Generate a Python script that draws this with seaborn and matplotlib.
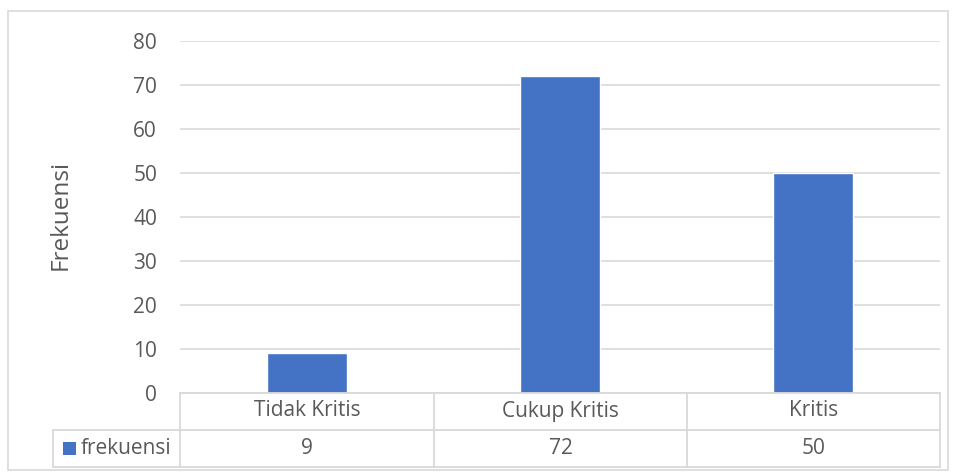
import matplotlib
matplotlib.use("Agg")
import matplotlib.pyplot as plt
import seaborn as sns
import pandas as pd
from matplotlib.lines import Line2D
from matplotlib.patches import Rectangle

categories = ["Tidak Kritis", "Cukup Kritis", "Kritis"]
values = [9, 72, 50]
series_name = "frekuensi"
y_label = "Frekuensi"
y_ticks = [0, 10, 20, 30, 40, 50, 60, 70, 80]

W, H = 955, 475
BLUE = "#4472C4"
GRID = "#D9D9D9"
TXT = "#595959"
FONT = "Open Sans"
FS = 15

sns.set_theme(style="white")
plt.rcParams["font.family"] = [FONT, "DejaVu Sans"]

fig = plt.figure(figsize=(W / 100, H / 100), dpi=100)

def fx(px):
    return px / W

def fy(py):
    return 1 - py / H

# plot area
left, right, top, bottom = 180, 940, 41, 393
ax = fig.add_axes([fx(left), fy(bottom), fx(right) - fx(left), fy(top) - fy(bottom)])
df = pd.DataFrame({"cat": categories, "val": values})
sns.barplot(data=df, x="cat", y="val", color=BLUE, width=0.316, saturation=1, ax=ax, zorder=3)
ax.set_xlim(-0.5, len(categories) - 0.5)
ax.set_ylim(y_ticks[0], y_ticks[-1])
ax.set_yticks(y_ticks)
ax.yaxis.grid(True, color=GRID, linewidth=1.2, zorder=0)
ax.set_axisbelow(True)
for s in ax.spines.values():
    s.set_visible(False)
ax.set_xticks([])
ax.set_xlabel("")
ax.set_ylabel("")
ax.tick_params(axis="y", length=0, pad=16.5, labelsize=FS, labelcolor=TXT)

fig.text(fx(61), fy(215), y_label, rotation=90, ha="center", va="center",
         fontsize=17.5, color=TXT)

# outer border
fig.patches.append(Rectangle((fx(8), fy(470)), fx(948) - fx(8), fy(11) - fy(470),
                             transform=fig.transFigure, fill=False, edgecolor=GRID,
                             linewidth=1.2))

def hline(x0, x1, y):
    fig.add_artist(Line2D([fx(x0), fx(x1)], [fy(y), fy(y)], color=GRID, linewidth=1.3,
                          transform=fig.transFigure))

def vline(x, y0, y1):
    fig.add_artist(Line2D([fx(x), fx(x)], [fy(y0), fy(y1)], color=GRID, linewidth=1.3,
                          transform=fig.transFigure))

# data table
col_edges = [180, 434, 687, 940]
hline(180, 940, 393)
hline(53, 940, 430)
hline(53, 940, 467)
for x in col_edges:
    vline(x, 393, 467)
vline(53, 430, 467)

for i, (c, v) in enumerate(zip(categories, values)):
    cx = (col_edges[i] + col_edges[i + 1]) / 2
    fig.text(fx(cx), fy(411), c, ha="center", va="center", fontsize=FS, color=TXT)
    fig.text(fx(cx), fy(449), str(v), ha="center", va="center", fontsize=FS, color=TXT)

fig.patches.append(Rectangle((fx(63), fy(455)), fx(76) - fx(63), fy(442) - fy(455),
                             transform=fig.transFigure, facecolor=BLUE, edgecolor="none"))
fig.text(fx(81), fy(448), series_name, ha="left", va="center", fontsize=FS, color=TXT)

fig.savefig("out.png", dpi=100)
